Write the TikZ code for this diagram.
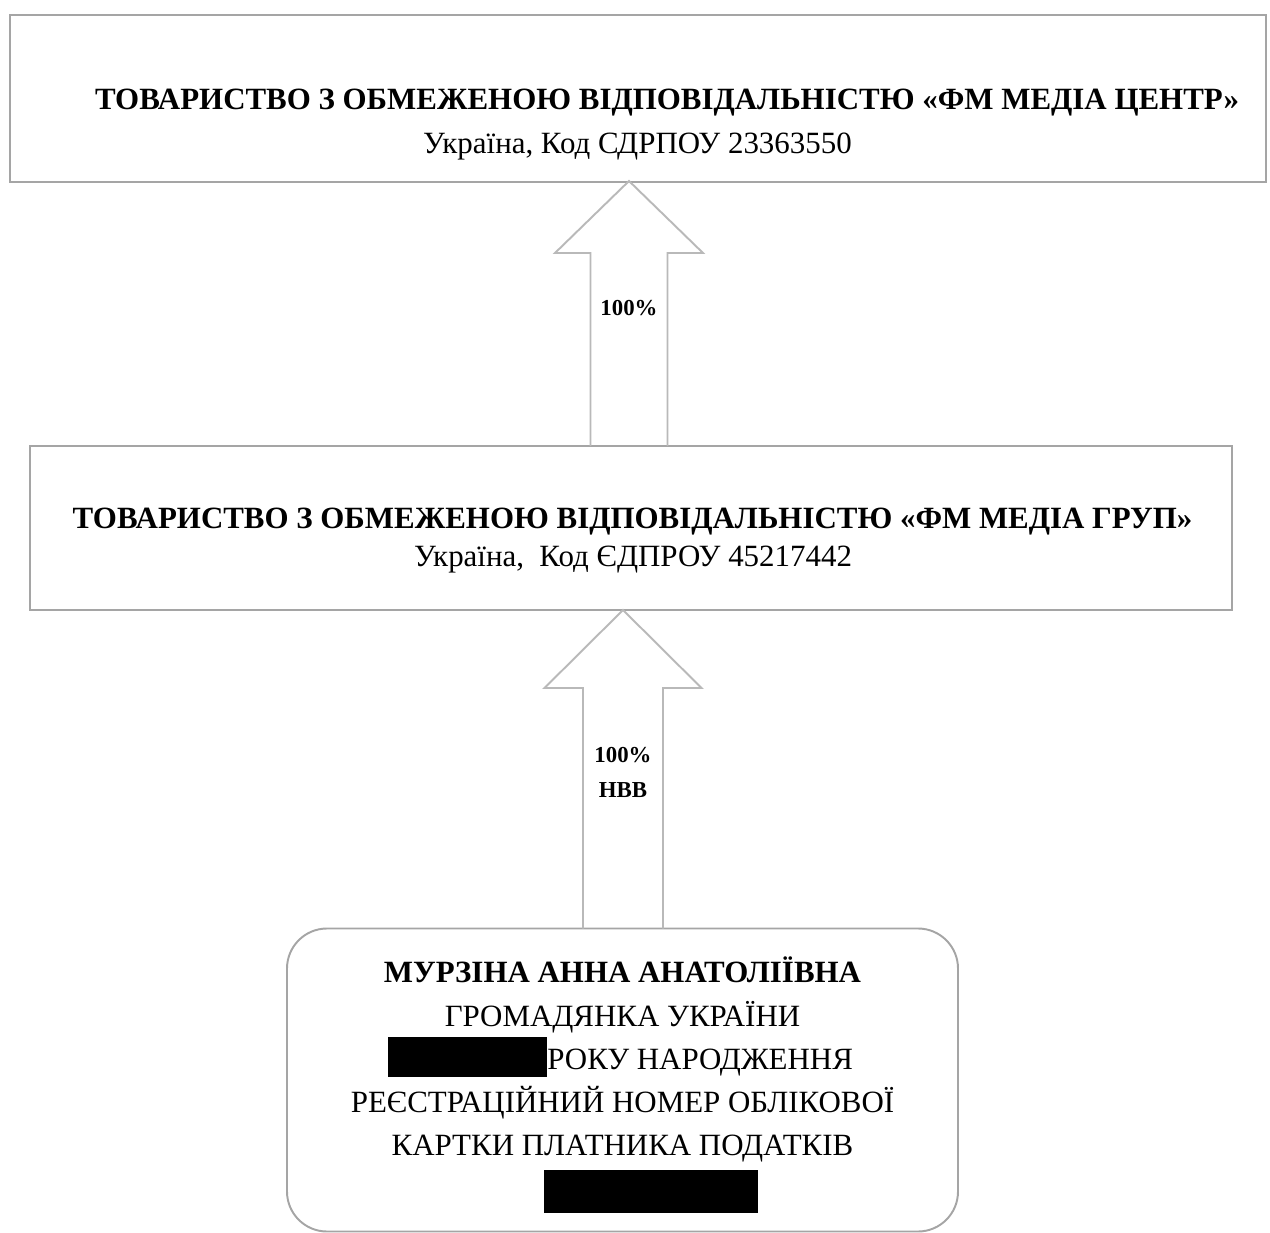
\documentclass[tikz,border=0pt]{standalone}
\usepackage{fontspec}
\setmainfont{Liberation Serif}
\usetikzlibrary{calc}
\definecolor{boxgray}{RGB}{165,165,165}
\definecolor{arrowgray}{RGB}{185,185,185}

\begin{document}
\begin{tikzpicture}[
    box/.style={draw=boxgray, line width=1.1pt, rectangle, inner sep=0pt},
    person/.style={draw=boxgray, line width=1.1pt, rounded corners=0.8cm, inner sep=0pt},
    title/.style={anchor=base, font=\bfseries\fontsize{17.6}{20}\selectfont},
    line/.style={anchor=base, font=\fontsize{17.6}{20}\selectfont},
    share/.style={anchor=base, font=\bfseries\fontsize{13}{15}\selectfont},
    redact/.style={fill=black, inner sep=0pt},
    blockarrow/.style={draw=arrowgray, line width=1.1pt, line join=miter}
]
    \useasboundingbox (0,0) rectangle (25.4,-24.66);

    \node[box, minimum width=25.12cm, minimum height=3.34cm] (ctr) at (12.76,-1.97) {};
    \node[box, minimum width=24.04cm, minimum height=3.28cm] (grp) at (12.62,-10.56) {};
    \node[person, minimum width=13.42cm, minimum height=6.06cm] (anna) at (12.45,-21.6) {};

    \coordinate (tip1) at (12.58,-3.62);
    \coordinate (foot1) at (12.58,-8.92);
    \coordinate (tip2) at (12.46,-12.2);
    \coordinate (foot2) at (12.46,-18.57);

    \draw[blockarrow] ($(foot1)+(-0.77,0)$) -- ($(tip1)+(-0.77,-1.44)$) -- ($(tip1)+(-1.48,-1.44)$) -- (tip1)
        -- ($(tip1)+(1.48,-1.44)$) -- ($(tip1)+(0.77,-1.44)$) -- ($(foot1)+(0.77,0)$);
    \draw[blockarrow] ($(foot2)+(-0.8,0)$) -- ($(tip2)+(-0.8,-1.56)$) -- ($(tip2)+(-1.57,-1.56)$) -- (tip2)
        -- ($(tip2)+(1.57,-1.56)$) -- ($(tip2)+(0.8,-1.56)$) -- ($(foot2)+(0.8,0)$);

    \node[share] (p1) at (12.58,-6.32) {100\%};
    \node[share] (p2) at (12.46,-15.24) {100\%};
    \node[share] (p2b) at (12.46,-15.94) {НВВ};

    \node[title] (ctrname) at (13.34,-2.20) {ТОВАРИСТВО З ОБМЕЖЕНОЮ ВІДПОВІДАЛЬНІСТЮ «ФМ МЕДІА ЦЕНТР»};
    \node[line] (ctrcode) at (12.75,-3.08) {Україна, Код СДРПОУ 23363550};

    \node[title] (grpname) at (12.65,-10.56) {ТОВАРИСТВО З ОБМЕЖЕНОЮ ВІДПОВІДАЛЬНІСТЮ «ФМ МЕДІА ГРУП»};
    \node[line] (grpcode) at (12.66,-11.32) {Україна,\ \ Код ЄДПРОУ 45217442};

    \node[title] (name) at (12.45,-19.64) {МУРЗІНА АННА АНАТОЛІЇВНА};
    \node[line] (citizen) at (12.45,-20.52) {ГРОМАДЯНКА УКРАЇНИ};
    \node[redact, minimum width=3.18cm, minimum height=0.8cm] (dob) at (9.35,-21.14) {};
    \node[line, anchor=base west, inner sep=0pt] (birth) at (10.94,-21.38) {РОКУ НАРОДЖЕННЯ};
    \node[line] (regno) at (12.45,-22.24) {РЕЄСТРАЦІЙНИЙ НОМЕР ОБЛІКОВОЇ};
    \node[line] (card) at (12.45,-23.10) {КАРТКИ ПЛАТНИКА ПОДАТКІВ};
    \node[redact, minimum width=4.28cm, minimum height=0.86cm] (taxid) at (13.02,-23.82) {};
\end{tikzpicture}
\end{document}
